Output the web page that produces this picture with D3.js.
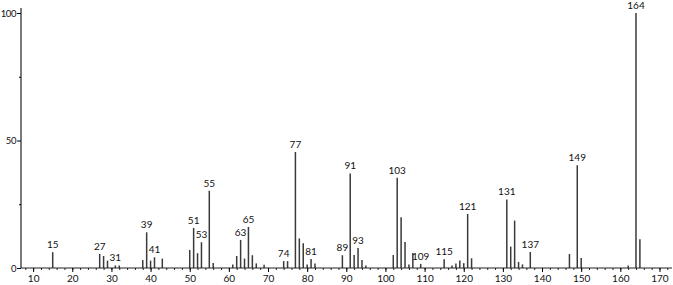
<!DOCTYPE html>
<html>
<head>
<meta charset="utf-8">
<script src="https://cdn.jsdelivr.net/npm/d3@7"></script>
<style>
  body { margin: 0; background: #fff; }
  text { font-family: "Lato", "DejaVu Sans", sans-serif; }
</style>
</head>
<body>
<svg id="chart"></svg>
<script>
const mz = [15, 27, 28, 29, 31, 32, 38, 39, 40, 41, 43, 50, 51, 52, 53, 55, 56,
  61, 62, 63, 64, 65, 66, 67, 69, 74, 75, 77, 78, 79, 80, 81, 82,
  89, 91, 92, 93, 94, 95, 102, 103, 104, 105, 106, 107, 109,
  115, 117, 118, 119, 120, 121, 122, 131, 132, 133, 134, 135, 137,
  147, 149, 150, 162, 164, 165];
const intensity = [6.2, 5.5, 4.7, 2.9, 1.0, 1.0, 3.1, 14.0, 2.9, 4.2, 3.7, 7.1, 15.7, 5.8, 10.1, 30.3, 2.0,
  1.4, 4.7, 11.0, 3.7, 16.1, 5.0, 1.8, 1.3, 2.7, 2.7, 45.5, 11.6, 9.7, 1.4, 3.5, 1.8,
  5.0, 37.1, 5.1, 7.8, 3.1, 1.0, 5.1, 35.4, 19.9, 10.2, 1.4, 5.9, 1.6,
  3.4, 1.0, 1.8, 2.9, 1.9, 21.2, 3.8, 26.9, 8.4, 18.6, 2.4, 1.4, 6.3,
  5.5, 40.3, 3.9, 1.0, 100, 11.3];
const labelled = [15, 27, 31, 39, 41, 51, 53, 55, 63, 65, 74, 77, 81, 89, 91, 93,
  103, 109, 115, 121, 131, 137, 149, 164];
const xTicks = [10, 20, 30, 40, 50, 60, 70, 80, 90, 100, 110, 120, 130, 140, 150, 160, 170];
const yTicks = [0, 50, 100];

const width = 673, height = 285;
const margin = { top: 13, right: 1, bottom: 17, left: 21 };

const svg = d3.select("#chart").attr("width", width).attr("height", height);

const x = d3.scaleLinear().domain([6.9, 173.2]).range([margin.left, width - margin.right]);
const y = d3.scaleLinear().domain([0, 100]).range([height - margin.bottom, margin.top]);

const peaks = mz.map((m, i) => ({ m, v: intensity[i] }));

// bars
svg.append("g")
  .selectAll("line")
  .data(peaks)
  .join("line")
  .attr("x1", d => x(d.m))
  .attr("x2", d => x(d.m))
  .attr("y1", y(0))
  .attr("y2", d => y(d.v))
  .attr("stroke", "#3a3a3a")
  .attr("stroke-width", 1.5);

// x axis: minor ticks every 2, labelled ticks every 10
const xAxis = svg.append("g")
  .attr("transform", `translate(0,${y(0)})`);
xAxis.call(d3.axisBottom(x).tickValues(d3.range(8, 174, 2)).tickSize(2).tickFormat(""));
xAxis.call(g => g.selectAll(".tick line").attr("stroke", "#222"));
const xMajor = svg.append("g").attr("transform", `translate(0,${y(0)})`)
  .call(d3.axisBottom(x).tickValues(xTicks).tickSize(4).tickPadding(3));
xMajor.select(".domain").remove();
xAxis.select(".domain").attr("d", `M${x.range()[0]},0H${x.range()[1]}`).attr("stroke", "#222").attr("stroke-width", 1.2);
xMajor.selectAll("text").attr("font-size", 10).attr("fill", "#111");

// y axis
const yAxis = svg.append("g").attr("transform", `translate(${margin.left},0)`)
  .call(d3.axisLeft(y).tickValues(yTicks).tickSize(4).tickPadding(1));
yAxis.select(".domain").attr("d", `M0,${y(0)}V${y(102)}`).attr("stroke", "#222").attr("stroke-width", 1.2);
yAxis.selectAll("text").attr("font-size", 9.5).attr("fill", "#111").attr("letter-spacing", -0.4);
svg.append("g").attr("transform", `translate(${margin.left},0)`)
  .call(d3.axisLeft(y).tickValues([25, 75]).tickSize(2).tickFormat(""))
  .select(".domain").remove();

// peak labels
svg.append("g")
  .selectAll("text")
  .data(peaks.filter(d => labelled.includes(d.m)))
  .join("text")
  .attr("x", d => x(d.m))
  .attr("y", d => y(d.v) - 4)
  .attr("text-anchor", "middle")
  .attr("font-size", 10)
  .attr("fill", "#111")
  .text(d => d.m);
</script>
</body>
</html>
